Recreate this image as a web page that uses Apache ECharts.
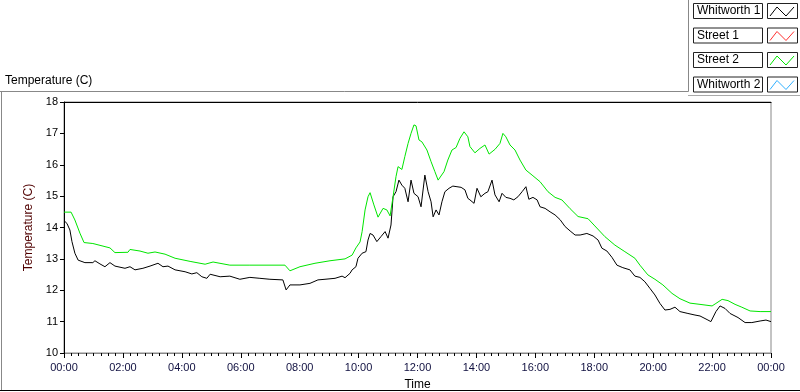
<!DOCTYPE html>
<html>
<head>
<meta charset="utf-8">
<script src="https://cdn.jsdelivr.net/npm/echarts@6/dist/echarts.min.js"></script>
<style>
html, body { margin: 0; padding: 0; background: #fff; }
#chart { width: 800px; height: 392px; }
</style>
</head>
<body>
<div id="chart"></div>
<script>
// plot names and colours, same order as the legend
const seriesNames = ['Whitworth 1', 'Street 1', 'Street 2', 'Whitworth 2'];
const seriesColors = ['#000000', '#ff3030', '#00e600', '#30b0ff'];

// time in hours since 00:00, temperature in C
const w1Time = [0, 0.1, 0.2, 0.27, 0.37, 0.48, 0.71, 0.98, 1.05, 1.22, 1.39, 1.56, 1.73, 2.07, 2.24, 2.41, 2.68, 2.92, 3.19, 3.36, 3.53, 3.77, 4.11, 4.34, 4.51, 4.68, 4.85, 4.96, 5.3, 5.63, 5.97, 6.31, 6.65, 6.99, 7.43, 7.54, 7.67, 8.01, 8.35, 8.62, 8.86, 9.2, 9.44, 9.54, 9.71, 9.78, 9.91, 9.98, 10.12, 10.25, 10.32, 10.39, 10.49, 10.62, 10.76, 10.9, 11.0, 11.1, 11.17, 11.27, 11.37, 11.47, 11.57, 11.68, 11.78, 11.88, 12.02, 12.12, 12.25, 12.36, 12.46, 12.53, 12.63, 12.73, 12.83, 12.93, 13.07, 13.2, 13.34, 13.48, 13.61, 13.71, 13.78, 13.92, 14.02, 14.15, 14.29, 14.39, 14.53, 14.63, 14.77, 14.87, 15.0, 15.14, 15.27, 15.41, 15.55, 15.68, 15.78, 15.92, 16.06, 16.16, 16.33, 16.5, 16.67, 16.84, 17.01, 17.18, 17.35, 17.52, 17.75, 17.96, 18.13, 18.26, 18.43, 18.6, 18.77, 18.97, 19.21, 19.38, 19.55, 19.72, 19.89, 20.06, 20.23, 20.4, 20.57, 20.74, 20.91, 21.18, 21.42, 21.59, 21.86, 21.96, 22.13, 22.27, 22.44, 22.61, 22.88, 23.12, 23.35, 23.63, 23.83, 24.0];
const w1Temp = [14.22, 14.13, 13.92, 13.55, 13.18, 12.96, 12.88, 12.88, 12.94, 12.84, 12.75, 12.88, 12.77, 12.7, 12.75, 12.65, 12.7, 12.77, 12.86, 12.75, 12.77, 12.65, 12.59, 12.52, 12.56, 12.43, 12.38, 12.51, 12.43, 12.45, 12.35, 12.41, 12.38, 12.35, 12.33, 12.01, 12.17, 12.17, 12.22, 12.33, 12.35, 12.38, 12.45, 12.4, 12.54, 12.65, 12.75, 13.02, 13.18, 13.23, 13.6, 13.81, 13.76, 13.55, 13.71, 13.87, 13.66, 14.08, 14.98, 15.14, 15.51, 15.35, 15.25, 14.82, 15.51, 15.09, 14.98, 14.66, 15.67, 15.14, 14.82, 14.34, 14.56, 14.4, 14.82, 15.14, 15.25, 15.32, 15.3, 15.28, 15.2, 14.93, 14.88, 14.77, 15.25, 14.98, 15.09, 15.14, 15.51, 15.04, 14.82, 15.09, 14.96, 14.93, 14.88, 14.98, 15.14, 15.3, 14.9, 14.96, 14.88, 14.66, 14.61, 14.5, 14.4, 14.25, 14.03, 13.89, 13.76, 13.76, 13.81, 13.73, 13.6, 13.34, 13.25, 13.05, 12.8, 12.72, 12.65, 12.45, 12.41, 12.27, 12.06, 11.85, 11.58, 11.37, 11.39, 11.46, 11.32, 11.26, 11.21, 11.18, 11.05, 11.0, 11.32, 11.5, 11.42, 11.26, 11.13, 10.97, 10.97, 11.02, 11.05, 11.0];

const s2Time = [0, 0.24, 0.37, 0.54, 0.68, 0.98, 1.56, 1.73, 2.17, 2.24, 2.58, 2.85, 3.09, 3.43, 3.77, 4.28, 4.79, 5.06, 5.63, 6.31, 7.5, 7.67, 8.01, 8.52, 9.03, 9.54, 9.78, 9.91, 10.05, 10.12, 10.22, 10.32, 10.39, 10.52, 10.66, 10.83, 10.96, 11.07, 11.17, 11.27, 11.34, 11.47, 11.57, 11.68, 11.78, 11.88, 11.95, 12.05, 12.15, 12.32, 12.46, 12.59, 12.7, 12.76, 12.9, 13.03, 13.17, 13.31, 13.44, 13.58, 13.71, 13.78, 13.95, 14.12, 14.29, 14.43, 14.63, 14.8, 14.9, 15.0, 15.14, 15.31, 15.48, 15.68, 15.89, 16.16, 16.43, 16.67, 16.9, 17.18, 17.45, 17.79, 18.02, 18.36, 18.7, 19.04, 19.38, 19.55, 19.82, 20.06, 20.33, 20.64, 20.91, 21.25, 21.59, 22.0, 22.13, 22.34, 22.54, 22.78, 23.01, 23.29, 23.63, 24.0];
const s2Temp = [14.49, 14.49, 14.24, 13.82, 13.52, 13.49, 13.35, 13.2, 13.21, 13.3, 13.25, 13.18, 13.22, 13.15, 13.02, 12.92, 12.83, 12.9, 12.8, 12.8, 12.8, 12.62, 12.75, 12.86, 12.94, 13.0, 13.12, 13.35, 13.54, 13.87, 14.56, 14.98, 15.11, 14.72, 14.33, 14.61, 14.56, 14.37, 14.98, 15.62, 15.94, 15.85, 16.26, 16.68, 17.0, 17.27, 17.24, 16.79, 16.73, 16.47, 16.1, 15.78, 15.51, 15.46, 15.78, 16.15, 16.47, 16.55, 16.84, 17.05, 16.89, 16.58, 16.38, 16.52, 16.63, 16.34, 16.49, 16.68, 17.0, 16.89, 16.63, 16.47, 16.15, 15.83, 15.67, 15.46, 15.14, 14.96, 14.88, 14.6, 14.35, 14.28, 14.05, 13.71, 13.44, 13.23, 13.02, 12.8, 12.49, 12.35, 12.17, 11.9, 11.73, 11.59, 11.55, 11.5, 11.58, 11.71, 11.67, 11.55, 11.46, 11.34, 11.32, 11.32];

// Street 1 and Whitworth 2 have no visible trace
const s1Time = [];
const s1Temp = [];
const w2Time = [];
const w2Temp = [];

function pairs(t, v) {
    return t.map(function (x, i) { return [x, v[i]]; });
}

const seriesData = [pairs(w1Time, w1Temp), pairs(s1Time, s1Temp), pairs(s2Time, s2Temp), pairs(w2Time, w2Temp)];

function pad(n) {
    return (n < 10 ? '0' : '') + n;
}

const font = 'Liberation Sans';

// legend boxes in the top right corner
const legendGraphics = [];
seriesNames.forEach(function (name, i) {
    const y = 3 + i * 24.5;
    legendGraphics.push({
        type: 'rect',
        shape: { x: 693.5, y: y + 0.5, width: 69, height: 15 },
        style: { fill: '#fff', stroke: '#222', lineWidth: 1 }
    });
    legendGraphics.push({
        type: 'text',
        style: { x: 697, y: y + 8, text: name, fill: '#000', font: '12px ' + font, verticalAlign: 'middle' }
    });
    legendGraphics.push({
        type: 'rect',
        shape: { x: 767.5, y: y + 0.5, width: 30, height: 15 },
        style: { fill: '#fff', stroke: '#222', lineWidth: 1 }
    });
    legendGraphics.push({
        type: 'polyline',
        shape: { points: [[770, y + 13], [777, y + 4], [786, y + 13], [794, y + 4]] },
        style: { stroke: seriesColors[i], lineWidth: 1, fill: null }
    });
});

const option = {
    backgroundColor: '#fff',
    animation: false,
    title: {
        text: 'Temperature (C)',
        left: 5,
        top: 75,
        padding: 0,
        textStyle: { fontSize: 12, fontWeight: 'normal', fontFamily: font, color: '#000' }
    },
    grid: {
        left: 64,
        right: 29,
        top: 102,
        bottom: 39,
        outerBoundsMode: 'none',
        show: true,
        borderColor: '#888',
        borderWidth: 1
    },
    xAxis: [
        {
            type: 'value',
            min: 0,
            max: 24,
            interval: 2,
            name: 'Time',
            nameLocation: 'middle',
            nameGap: 26,
            nameTextStyle: { fontSize: 12, fontFamily: font, color: '#000' },
            axisLine: { show: true, lineStyle: { color: '#888' } },
            axisTick: { show: true, length: 5, lineStyle: { color: '#000' } },
            minorTick: { show: true, splitNumber: 8, length: 3, lineStyle: { color: '#000' } },
            splitLine: { show: false },
            axisLabel: {
                fontSize: 11,
                fontFamily: font,
                color: '#101040',
                margin: 9,
                showMaxLabel: true,
                formatter: function (v) { return pad(v % 24) + ':00'; }
            }
        },
        {
            type: 'value',
            position: 'top',
            min: 0,
            max: 24,
            axisLine: { show: true, lineStyle: { color: '#000' } },
            axisTick: { show: false },
            axisLabel: { show: false },
            splitLine: { show: false }
        }
    ],
    yAxis: {
        type: 'value',
        min: 10,
        max: 18,
        interval: 1,
        name: 'Temperature (C)',
        nameLocation: 'middle',
        nameGap: 28,
        nameTextStyle: { fontSize: 12, fontFamily: font, color: '#500000' },
        axisLine: { show: true, lineStyle: { color: '#000' } },
        axisTick: { show: true, length: 4, lineStyle: { color: '#000' } },
        splitLine: { show: false },
        axisLabel: { fontSize: 11, fontFamily: font, color: '#000', margin: 6 }
    },
    graphic: [
        {
            type: 'polyline',
            shape: { points: [[0, 91.5], [688.5, 91.5], [688.5, 0]] },
            style: { stroke: '#888', lineWidth: 1, fill: null }
        },
        {
            type: 'line',
            shape: { x1: 688, y1: 95.5, x2: 800, y2: 95.5 },
            style: { stroke: '#aaa', lineWidth: 1 }
        },
        {
            type: 'line',
            shape: { x1: 1.5, y1: 92, x2: 1.5, y2: 391 },
            style: { stroke: '#888', lineWidth: 1 }
        },
        {
            type: 'line',
            shape: { x1: 0, y1: 390.5, x2: 800, y2: 390.5 },
            style: { stroke: '#000', lineWidth: 1 }
        }
    ].concat(legendGraphics),
    series: seriesNames.map(function (name, i) {
        return {
            name: name,
            type: 'line',
            data: seriesData[i],
            showSymbol: false,
            symbol: 'none',
            lineStyle: { color: seriesColors[i], width: 1 },
            itemStyle: { color: seriesColors[i] }
        };
    })
};

const mychart = echarts.init(document.getElementById('chart'));
mychart.setOption(option);
</script>
</body>
</html>
